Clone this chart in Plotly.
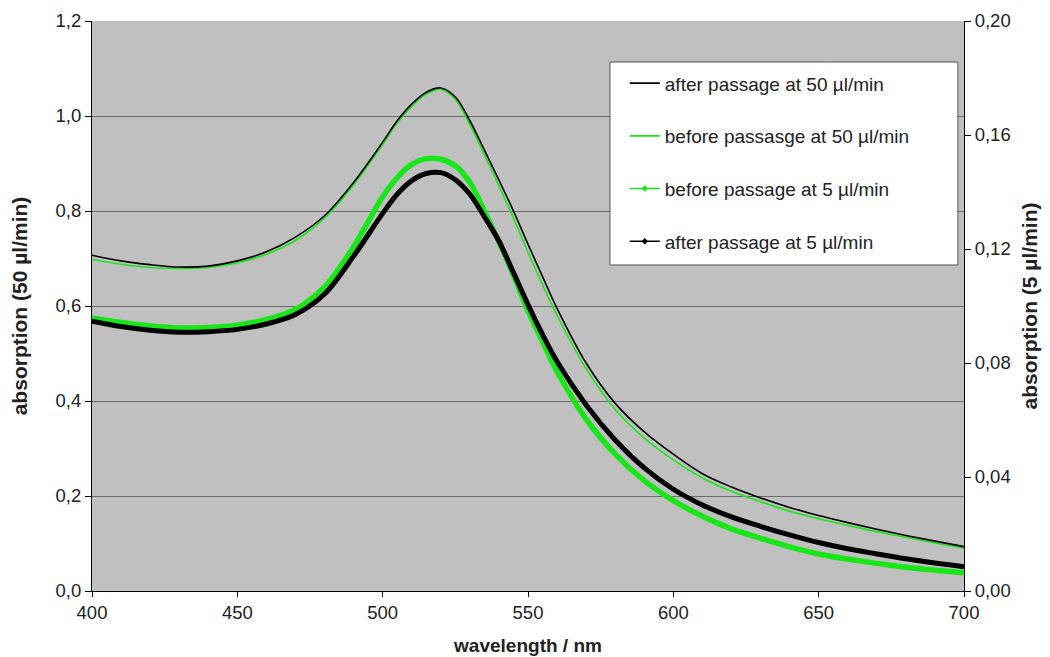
import plotly.graph_objects as go

# wavelengths (nm) and values
wl_a = [400, 410, 420, 430, 440, 450, 460, 470, 480, 490, 500, 505, 510, 515, 520, 525, 530, 535,
        540, 545, 550, 555, 560, 570, 580, 590, 600, 610, 620, 630, 640, 650, 660, 670, 680, 690, 700]
after_50 = [0.707, 0.695, 0.687, 0.682, 0.684, 0.695, 0.714, 0.745, 0.790, 0.860, 0.945, 0.990, 1.025, 1.050,
            1.059, 1.040, 0.990, 0.928, 0.865, 0.800, 0.730, 0.662, 0.595, 0.480, 0.395, 0.335,
            0.288, 0.247, 0.219, 0.196, 0.176, 0.159, 0.144, 0.130, 0.117, 0.105, 0.0935]

wl_b = [400, 410, 420, 430, 440, 450, 460, 470, 480, 490, 500, 505, 510, 515, 520, 525, 530, 535,
        540, 545, 550, 555, 560, 570, 580, 590, 600, 610, 620, 630, 640, 650, 660, 670, 680, 690, 700]
before_50 = [0.698, 0.688, 0.681, 0.679, 0.681, 0.691, 0.709, 0.738, 0.785, 0.855, 0.940, 0.985, 1.020, 1.046,
             1.056, 1.035, 0.982, 0.918, 0.853, 0.785, 0.713, 0.645, 0.580, 0.468, 0.382, 0.322,
             0.276, 0.238, 0.210, 0.188, 0.168, 0.152, 0.138, 0.125, 0.113, 0.101, 0.090]

wl_c = [400, 410, 420, 430, 440, 450, 460, 470, 480, 490, 500, 505, 510, 515, 520, 525, 530, 535,
        540, 545, 550, 555, 560, 570, 580, 590, 600, 610, 620, 630, 640, 650, 660, 670, 680, 690, 700]
before_5 = [0.0958, 0.0942, 0.0930, 0.0923, 0.0925, 0.0933, 0.0953, 0.0988, 0.1067, 0.1208, 0.1383,
            0.1450, 0.1497, 0.1517, 0.1515, 0.1492, 0.1433, 0.1333, 0.1225, 0.1108, 0.0983, 0.0875,
            0.0770, 0.0603, 0.0480, 0.0387, 0.0317, 0.0262, 0.0218, 0.0185, 0.0155, 0.0130, 0.0112,
            0.0097, 0.0083, 0.0073, 0.0064]

wl_d = [400, 410, 420, 430, 440, 450, 460, 470, 480, 490, 500, 505, 510, 515, 520, 525, 530, 535,
        540, 545, 550, 555, 560, 570, 580, 590, 600, 610, 620, 630, 640, 650, 660, 670, 680, 690, 700]
after_5 = [0.0947, 0.0928, 0.0915, 0.0908, 0.0910, 0.0918, 0.0937, 0.0970, 0.1042, 0.1175, 0.1325, 0.1392,
           0.1440, 0.1465, 0.1468, 0.1443, 0.1392, 0.1313, 0.1228, 0.1117, 0.1005, 0.0900, 0.0805,
           0.0653, 0.0530, 0.0432, 0.0357, 0.0302, 0.0260, 0.0227, 0.0197, 0.0170, 0.0148, 0.0130,
           0.0113, 0.0098, 0.0085]

series_names = ["after passage at 50 µl/min", "before passasge at 50 µl/min",
                "before passage at 5 µl/min", "after passage at 5 µl/min"]

GREEN = "#19e619"
FONT = "Liberation Sans, Arial, sans-serif"

fig = go.Figure()
# data traces
fig.add_trace(go.Scatter(x=wl_c, y=before_5, yaxis="y2", mode="lines", showlegend=False,
                         line=dict(color=GREEN, width=5.5, shape="spline"), name=series_names[2]))
fig.add_trace(go.Scatter(x=wl_d, y=after_5, yaxis="y2", mode="lines", showlegend=False,
                         line=dict(color="black", width=5, shape="spline"), name=series_names[3]))
fig.add_trace(go.Scatter(x=wl_b, y=before_50, mode="lines", showlegend=False,
                         line=dict(color=GREEN, width=1.6, shape="spline"), name=series_names[1]))
fig.add_trace(go.Scatter(x=wl_a, y=after_50, mode="lines", showlegend=False,
                         line=dict(color="black", width=1.6, shape="spline"), name=series_names[0]))

# legend-only entries (thin line, small marker as in the reference legend)
legend_styles = [("black", None), (GREEN, None), (GREEN, "diamond"), ("black", "diamond")]
for i, (nm, (col, sym)) in enumerate(zip(series_names, legend_styles)):
    fig.add_trace(go.Scatter(x=[None], y=[None], name=nm, legendgroup=f"g{i}",
                             mode="lines+markers" if sym else "lines",
                             line=dict(color=col, width=1.6),
                             marker=dict(symbol=sym or "circle", size=5, color=col)))

# the page body has an 8 px margin, so the figure is sized to fit the 1050x657 window
fig.update_layout(
    width=1042, height=649,
    margin=dict(l=84, r=86, t=13, b=66),
    paper_bgcolor="white", plot_bgcolor="#c0c0c0",
    separators=",.",
    font=dict(family=FONT, size=18.5, color="#222"),
    showlegend=True,
    legend=dict(x=0.611, y=0.924, xanchor="left", yanchor="top", bgcolor="rgba(0,0,0,0)",
                borderwidth=0, font=dict(size=19, color="#222"),
                tracegroupgap=25, traceorder="grouped", itemwidth=30),
    shapes=[dict(type="rect", xref="paper", yref="paper", x0=0.594, x1=0.993, y0=0.572, y1=0.928,
                 fillcolor="white", line=dict(color="#555", width=1), layer="above")],
    xaxis=dict(range=[400, 700], tickvals=[400, 450, 500, 550, 600, 650, 700], showgrid=False,
               showline=True, linecolor="black", linewidth=1, ticks="outside", ticklen=5,
               tickcolor="black", zeroline=False, automargin=False,
               title=dict(text="<b>wavelength / nm</b>", font=dict(size=19), standoff=16)),
    yaxis=dict(range=[0, 1.2], dtick=0.2, tickformat=".1f", showgrid=True, gridcolor="#6a6a6a",
               gridwidth=1, showline=True, linecolor="black", linewidth=1, ticks="outside",
               ticklen=6, tickcolor="black", zeroline=False, automargin=False,
               title=dict(text="<b>absorption (50 µl/min)</b>", font=dict(size=21), standoff=23)),
    yaxis2=dict(range=[0, 0.2], dtick=0.04, tickformat=".2f", overlaying="y", side="right",
                showgrid=False, showline=True, linecolor="black", linewidth=1, ticks="outside",
                ticklen=6, tickcolor="black", zeroline=False, automargin=False,
                title=dict(text="<b>absorption (5 µl/min)</b>", font=dict(size=21), standoff=12)),
)

fig.write_html("out.html")
